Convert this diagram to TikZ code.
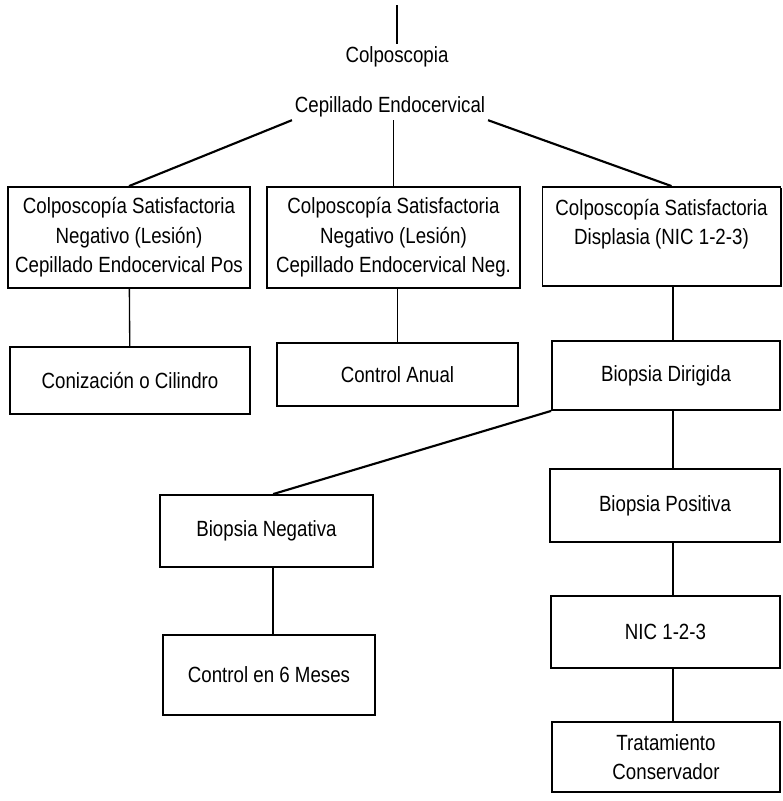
\documentclass[tikz,border=0pt]{standalone}
\usepackage{fontspec}
\setmainfont{Liberation Sans}[FakeStretch=0.85]
\usetikzlibrary{shadows}

\begin{document}
\begin{tikzpicture}[x=0.75pt, y=-0.75pt,
    letra/.style={font=\fontsize{16.5}{22}\selectfont},
    caja/.style={letra, draw, fill=white, line width=1.4pt, align=center, inner sep=0pt,
        drop shadow={shadow xshift=1.1pt, shadow yshift=-1.1pt, opacity=1, fill=black}},
    medida/.style 2 args={minimum width=#1*0.75pt, minimum height=#2*0.75pt},
    rotulo/.style={letra, align=center, inner sep=2pt},
    enlace/.style={line width=1pt},
    diagonal/.style={line width=1.6pt}]

    \useasboundingbox (0,0) rectangle (783,801);

    % ==========================================
    % 1. TITULOS SUPERIORES
    % ==========================================
    \coordinate (Entrada) at (397,5);
    \node[rotulo] (Colpo) at (397,57) {Colposcopia};
    \node[rotulo] (Cepillado) at (390,107) {Cepillado Endocervical};

    % ==========================================
    % 2. PRIMER NIVEL DE CAJAS
    % ==========================================
    \node[caja, medida={242}{101}] (SatPos) at (129,237.5)
        {Colposcopía Satisfactoria\\Negativo (Lesión)\\Cepillado Endocervical Pos};
    \node[caja, medida={253}{101}] (SatNeg) at (393.5,237.5)
        {Colposcopía Satisfactoria\\Negativo (Lesión)\\Cepillado Endocervical Neg.};
    \node[caja, medida={238}{99}] (SatDisp) at (661.5,236.5)
        {Colposcopía Satisfactoria\\Displasia (NIC 1-2-3)\\\mbox{}};

    % ==========================================
    % 3. CONDUCTAS
    % ==========================================
    \node[caja, medida={240}{67}] (Conizacion) at (130,380.5) {Conización o Cilindro};
    \node[caja, medida={241}{63}] (Anual) at (397.5,374.5) {Control Anual};
    \node[caja, medida={228}{69}] (Dirigida) at (666,375.5) {Biopsia Dirigida};

    \node[caja, medida={213}{72}] (BioNeg) at (266.5,531) {Biopsia Negativa};
    \node[caja, medida={230}{73}] (BioPos) at (665,505.5) {Biopsia Positiva};
    \node[caja, medida={229}{72}] (Nic) at (665.5,632) {NIC 1-2-3};
    \node[caja, medida={212}{80}] (Seis) at (269,675) {Control en 6 Meses};
    \node[caja, medida={228}{70}] (Tratamiento) at (666,757) {Tratamiento\\Conservador};

    % eje de la columna derecha
    \coordinate (Eje) at (673,0);

    % ==========================================
    % 4. CONECTORES
    % ==========================================
    \draw[enlace] (Entrada) -- (Colpo.north);
    \draw[diagonal] (Cepillado.south west) -- (SatPos.north);
    \draw[enlace] (Cepillado.south -| SatNeg.north) -- (SatNeg.north);
    \draw[diagonal] (Cepillado.south east) -- ([xshift=7.5pt]SatDisp.north);

    \draw[enlace] (SatPos) -- (Conizacion);
    \draw[enlace] (Anual.north |- SatNeg.south) -- (Anual.north);
    \draw[diagonal] (Eje |- SatDisp.south) -- (Eje |- Dirigida.north);

    \draw[diagonal] (Dirigida.south west) -- ([xshift=5pt]BioNeg.north);
    \draw[enlace] (Eje |- Dirigida.south) -- (Eje |- BioPos.north);
    \draw[diagonal] (Eje |- BioPos.south) -- (Eje |- Nic.north);
    \draw[diagonal] (Eje |- Nic.south) -- (Eje |- Tratamiento.north);
    \draw[diagonal] ([xshift=5pt]BioNeg.south) -- ([xshift=5pt]BioNeg.south |- Seis.north);

\end{tikzpicture}
\end{document}
